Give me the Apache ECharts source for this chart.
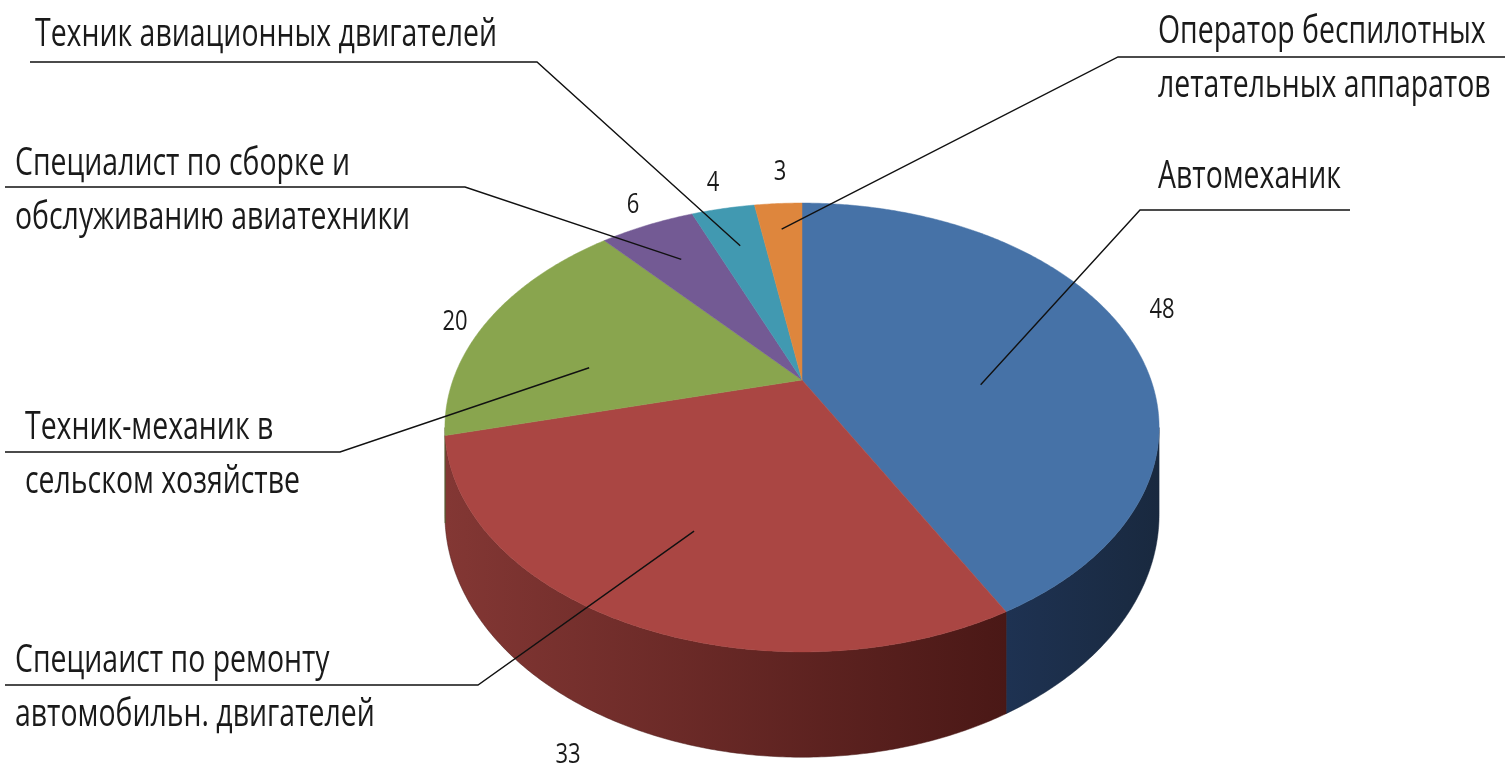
<!DOCTYPE html>
<html>
<head>
<meta charset="utf-8">
<script src="https://cdn.jsdelivr.net/npm/echarts@6/dist/echarts.min.js"></script>
<style>
html, body { margin: 0; padding: 0; background: #fff; }
#chart { width: 1505px; height: 770px; }
</style>
</head>
<body>
<div id="chart"></div>
<script>
// data
var names = [
    'Автомеханик',
    'Специаист по ремонту\nавтомобильн. двигателей',
    'Техник-механик в\nсельском хозяйстве',
    'Специалист по сборке и\nобслуживанию авиатехники',
    'Техник авиационных двигателей',
    'Оператор беспилотных\nлетательных аппаратов'
];
var values = [48, 33, 20, 6, 4, 3];

var topColors = ['#4672a7', '#aa4643', '#89a54e', '#735a94', '#4199b1', '#de863d'];
var wallColors = [['#1e3252', '#19293f'], ['#833734', '#4a1816'], ['#5d7033', '#4e5e2a'],
                  ['#4d3c63', '#3f3152'], ['#2c6878', '#245663'], ['#96592a', '#7c4923']];

// label layout (pixels): text position, underline [x0, x1, y], side of the kink
var labelPos = [[1158, 177], [15, 688], [25, 455], [15, 191], [35, 35], [1158, 59]];
var underline = [[1140, 1350, 210], [5, 478, 685], [5, 340, 452], [5, 465, 187], [30, 537, 62], [1118, 1505, 57]];
var kinkRight = [false, true, true, true, true, false];
// where the leader touches the slice: fraction along the slice, fraction of radius
var anchorAt = [[0.61, 0.51], [0.5, 0.67], [0.31, 0.62], [0.5, 0.75], [0.5, 0.75], [0.5, 0.83]];
var valuePos = [[1162, 310], [568, 755], [455, 322], [633, 205], [713, 183], [780, 172]];

var K = 0.2116;     // perspective, far edge smaller
var DEPTH = 83;     // wall height in px (at w = 1)
var CX = 802, CY = 380, RX = 349, RY = 214.4;

var total = values.reduce(function (a, b) { return a + b; }, 0);
var starts = [];
var acc = 0;
values.forEach(function (v) {
    starts.push(Math.PI / 2 - 2 * Math.PI * acc / total);
    acc += v;
});

var FONT = '"Open Sans", "Noto Sans", sans-serif';
var ctx = document.createElement('canvas').getContext('2d');
ctx.font = '38px ' + FONT;
var sx = 462 / ctx.measureText('Техник авиационных двигателей').width;

function proj(theta, r) {
    var u = r * Math.cos(theta), v = r * Math.sin(theta), w = 1 + K * v;
    return [u / w, v / w, w];
}

function renderItem(params, api) {
    var i = params.dataIndex;
    var a0 = starts[i];
    var a1 = a0 - 2 * Math.PI * api.value(2) / total;
    var children = [];

    // top face
    var center = api.coord([0, 0]);
    var pts = [center];
    var n = Math.max(4, Math.ceil((a0 - a1) / (Math.PI / 360)));
    for (var s = 0; s <= n; s++) {
        var t = a0 + (a1 - a0) * s / n;
        var p = proj(t, 1);
        pts.push(api.coord([p[0], p[1]]));
    }
    children.push({
        type: 'polygon', z2: 2,
        shape: { points: pts },
        style: { fill: topColors[i], stroke: topColors[i], lineWidth: 0.5 }
    });

    // visible wall (front side)
    var lim = Math.asin(K);
    var lo = Math.max(a1, -Math.PI + lim), hi = Math.min(a0, -lim);
    if (lo < hi) {
        var topRim = [], botRim = [];
        var m = Math.max(4, Math.ceil((hi - lo) / (Math.PI / 360)));
        for (var s2 = 0; s2 <= m; s2++) {
            var t2 = hi + (lo - hi) * s2 / m;
            var q = proj(t2, 1);
            var c = api.coord([q[0], q[1]]);
            topRim.push(c);
            botRim.unshift([c[0], c[1] + DEPTH / q[2]]);
        }
        var xs = topRim.map(function (d) { return d[0]; });
        var xmin = Math.min.apply(null, xs), xmax = Math.max.apply(null, xs);
        children.push({
            type: 'polygon', z2: 1,
            shape: { points: topRim.concat(botRim) },
            style: {
                fill: new echarts.graphic.LinearGradient(xmin, 0, xmax, 0, [
                    { offset: 0, color: wallColors[i][0] },
                    { offset: 1, color: wallColors[i][1] }
                ], true),
                stroke: wallColors[i][1], lineWidth: 0.5
            }
        });
    }

    // leader line
    var am = a0 + (a1 - a0) * anchorAt[i][0];
    var ap = proj(am, anchorAt[i][1]);
    var anchor = api.coord([ap[0], ap[1]]);
    var ul = underline[i];
    var far = kinkRight[i] ? [ul[0], ul[2]] : [ul[1], ul[2]];
    var kink = kinkRight[i] ? [ul[1], ul[2]] : [ul[0], ul[2]];
    children.push({
        type: 'polyline', z2: 10,
        shape: { points: [far, kink, anchor] },
        style: { stroke: '#111', lineWidth: 1.4, fill: null }
    });

    // category label
    children.push({
        type: 'text', z2: 11,
        x: labelPos[i][0], y: labelPos[i][1], scaleX: sx,
        style: {
            text: names[i], x: 0, y: 0,
            font: '38px ' + FONT, fill: '#1a1a1a',
            align: 'left', verticalAlign: 'middle', lineHeight: 54
        }
    });

    // value label
    children.push({
        type: 'text', z2: 11,
        x: valuePos[i][0], y: valuePos[i][1], scaleX: sx * 1.05,
        style: {
            text: String(api.value(2)), x: 0, y: 0,
            font: '28px ' + FONT, fill: '#1a1a1a',
            align: 'center', verticalAlign: 'middle'
        }
    });

    return { type: 'group', children: children };
}

var option = {
    animation: false,
    grid: { left: 0, right: 0, top: 0, bottom: 0 },
    xAxis: { type: 'value', show: false, min: -CX / RX, max: (1505 - CX) / RX },
    yAxis: { type: 'value', show: false, min: -(770 - CY) / RY, max: CY / RY },
    series: [{
        type: 'custom',
        coordinateSystem: 'cartesian2d',
        renderItem: renderItem,
        encode: { x: 0, y: 1 },
        data: values.map(function (v, i) {
            return { name: names[i], value: [0, 0, v] };
        })
    }]
};

var myChart = echarts.init(document.getElementById('chart'));
myChart.setOption(option);
</script>
</body>
</html>
